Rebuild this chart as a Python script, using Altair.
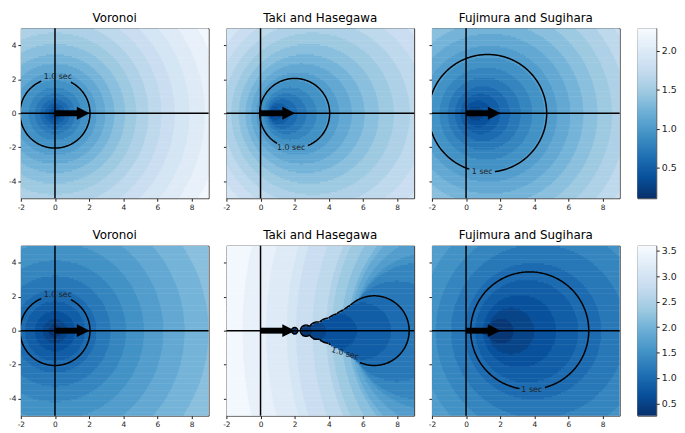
import numpy as np
import pandas as pd
import altair as alt

# ---------------- axes / text ----------------
X_DOMAIN = [-2, 9]
Y_DOMAIN = [-5, 5]
X_TICKS = [-2, 0, 2, 4, 6, 8]
Y_TICKS = [-4, -2, 0, 2, 4]

TITLES = ["Voronoi", "Taki and Hasegawa", "Fujimura and Sugihara"]
MODELS = ["voronoi", "taki", "fujimura"]

# colour-bar ranges and tick labels
ROW_VMIN = [0.11, 0.26]
ROW_VMAX = [2.29, 3.60]
CBAR_TICKS = [[0.5, 1.0, 1.5, 2.0], [0.5, 1.0, 1.5, 2.0, 2.5, 3.0, 3.5]]
N_LEVELS = 20
CBAR_STEPS = 100
# matplotlib "Blues" stops, dark (low) to light (high)
BLUES_R = ["#08306b", "#08519c", "#2171b5", "#4292c6", "#6baed6",
           "#9ecae1", "#c6dbef", "#deebf7", "#f7fbff"]

# motion-model parameters
VELOCITY = [[0.0, 2.0, 2.0], [0.0, 6.66, 5.9]]   # initial speed along +x
HALF_ACCEL = 2.05                                 # reach radius = HALF_ACCEL * t^2
FS_LAMBDA = 1.0                                   # Fujimura-Sugihara resistance
FS_VMAX = 9.4                                     # Fujimura-Sugihara max speed
TIME_STEP = [[0.005, 0.005, 0.005], [0.005, 0.1, 0.005]]
CONTOUR_TIME = 1.0

ARROW_X = [0.0, 2.03]   # velocity arrow start / tip

LABEL_TEXT = [["1.0 sec", "1.0 sec", "1 sec"], ["1.0 sec", "1.0 sec", "1 sec"]]
LABEL_X = [[0.17, 1.8, 0.95], [0.17, 4.95, 3.85]]
LABEL_Y = [[2.12, -2.07, -3.47], [2.12, -1.36, -3.48]]
LABEL_ANGLE = [[0, 0, 0], [0, 16, 0]]

# ---------------- layout ----------------
PW, PH = 190, 172
CB_W = 19
DX, DY = 0.025, 0.1
OVERLAP = 0.03
PX_PER_UNIT = PW / (X_DOMAIN[1] - X_DOMAIN[0])


def centre_radius(model, v0, t):
    t = np.asarray(t, dtype=float)
    if model == "fujimura":
        g = (1 - np.exp(-FS_LAMBDA * t)) / FS_LAMBDA
        return v0 * g, FS_VMAX * (t - g)
    return v0 * t, HALF_ACCEL * t ** 2


def time_field(model, v0, dt):
    xe = np.arange(X_DOMAIN[0], X_DOMAIN[1] + DX / 2, DX)
    ye = np.arange(Y_DOMAIN[0], Y_DOMAIN[1] + DY / 2, DY)
    XX, YY = np.meshgrid((xe[:-1] + xe[1:]) / 2, (ye[:-1] + ye[1:]) / 2)
    T = np.full(XX.shape, np.inf)
    ts = np.arange(0, 5 + dt / 2, dt)
    cs, rs = centre_radius(model, v0, ts)
    for t, c, r in zip(ts, cs, rs):
        m = (T == np.inf) & ((XX - c) ** 2 + YY ** 2 <= r * r)
        T[m] = t
    return xe, ye, T


def heat_frame(row, col):
    xe, ye, T = time_field(MODELS[col], VELOCITY[row][col], TIME_STEP[row][col])
    vmin, vmax = ROW_VMIN[row], ROW_VMAX[row]
    step = (vmax - vmin) / N_LEVELS
    K = np.clip(np.floor((T - vmin) / step), 0, N_LEVELS - 1).astype(int)
    recs = []
    for j in range(K.shape[0]):
        k = K[j]
        cut = np.flatnonzero(np.diff(k)) + 1
        s = np.r_[0, cut]
        e = np.r_[cut, k.size]
        for a, b in zip(s, e):
            recs.append((xe[a], min(xe[b] + OVERLAP, X_DOMAIN[1]), ye[j] - OVERLAP, ye[j + 1],
                         vmin + (k[a] + 0.5) * step))
    return pd.DataFrame(recs, columns=["x", "x2", "y", "y2", "v"]).round(4)


def contour_frame(row, col):
    model, v0, dt = MODELS[col], VELOCITY[row][col], TIME_STEP[row][col]
    if dt >= 0.05:
        ts = np.arange(dt, CONTOUR_TIME + dt / 2, dt)
    else:
        ts = np.array([CONTOUR_TIME])
    cs, rs = centre_radius(model, v0, ts)
    ang = np.linspace(0, 2 * np.pi, 361)
    text = LABEL_TEXT[row][col]
    hw = (len(text) * 4.15 / 2 + 2) / PX_PER_UNIT
    hh = 5 / PX_PER_UNIT
    a = np.radians(LABEL_ANGLE[row][col])
    recs, seg = [], 0
    for i, (c, r) in enumerate(zip(cs, rs)):
        px = c + r * np.cos(ang)
        py = r * np.sin(ang)
        keep = np.ones(px.shape, bool)
        for j, (c2, r2) in enumerate(zip(cs, rs)):
            if j != i:
                keep &= (px - c2) ** 2 + py ** 2 >= r2 ** 2 - 1e-9
        dx = px - LABEL_X[row][col]
        dy = py - LABEL_Y[row][col]
        u = dx * np.cos(a) - dy * np.sin(a)
        v = dx * np.sin(a) + dy * np.cos(a)
        keep &= ~((np.abs(u) < hw) & (np.abs(v) < hh))
        idx = np.flatnonzero(keep)
        if idx.size == 0:
            continue
        breaks = np.flatnonzero(np.diff(idx) > 1) + 1
        for run in np.split(idx, breaks):
            if run.size < 2:
                continue
            for o, p in enumerate(run):
                recs.append((seg, o, px[p], py[p]))
            seg += 1
    return pd.DataFrame(recs, columns=["seg", "i", "x", "y"]).round(4)


def colour_scale(row):
    dom = list(np.linspace(ROW_VMIN[row], ROW_VMAX[row], len(BLUES_R)).round(5))
    return alt.Scale(domain=dom, range=BLUES_R, interpolate="rgb")


def panel(row, col):
    xs = alt.Scale(domain=X_DOMAIN, nice=False, zero=False)
    ys = alt.Scale(domain=Y_DOMAIN, nice=False, zero=False)
    xaxis = alt.Axis(values=X_TICKS, title=None, labelExpr="datum.value", labelPadding=2,
                     labelOverlap=False, labelFlush=False)
    yaxis = alt.Axis(values=Y_TICKS, title=None, labelExpr="datum.value",
                     labels=(col == 0), labelPadding=2, labelOverlap=False, labelFlush=False)
    cs = colour_scale(row)
    heat = alt.Chart(heat_frame(row, col)).mark_rect(clip=True, strokeWidth=0).encode(
        x=alt.X("x:Q", scale=xs, axis=xaxis), x2="x2:Q",
        y=alt.Y("y:Q", scale=ys, axis=yaxis), y2="y2:Q",
        color=alt.Color("v:Q", scale=cs, legend=None),
    )
    line = alt.Chart(contour_frame(row, col)).mark_line(
        clip=True, color="black", strokeWidth=1.5).encode(
        x=alt.X("x:Q", axis=xaxis), y=alt.Y("y:Q", axis=yaxis), detail="seg:N", order="i:Q")
    vrule = alt.Chart(pd.DataFrame({"x": [0.0]})).mark_rule(
        color="black", strokeWidth=1.5).encode(x=alt.X("x:Q", axis=xaxis))
    hrule = alt.Chart(pd.DataFrame({"y": [0.0]})).mark_rule(
        color="black", strokeWidth=1.5).encode(y=alt.Y("y:Q", axis=yaxis))
    head_len = 13 / PX_PER_UNIT
    shaft = alt.Chart(pd.DataFrame({"x": [ARROW_X[0]], "x2": [ARROW_X[1] - head_len * 0.85],
                                    "y": [0.0]})).mark_rule(
        color="black", strokeWidth=6).encode(x=alt.X("x:Q", axis=xaxis), x2="x2:Q",
                                             y=alt.Y("y:Q", axis=yaxis))
    head = alt.Chart(pd.DataFrame({"x": [ARROW_X[1] - head_len / 2], "y": [0.0]})).mark_point(
        shape="M -1 -1 L 1 0 L -1 1 Z", size=169, filled=True, color="black", opacity=1,
        strokeWidth=0).encode(x=alt.X("x:Q", axis=xaxis), y=alt.Y("y:Q", axis=yaxis))
    label = alt.Chart(pd.DataFrame({"x": [LABEL_X[row][col]], "y": [LABEL_Y[row][col]],
                                    "t": [LABEL_TEXT[row][col]]})).mark_text(
        fontSize=8, color="#222222", align="center", baseline="middle",
        angle=LABEL_ANGLE[row][col]).encode(x=alt.X("x:Q", axis=xaxis),
                                            y=alt.Y("y:Q", axis=yaxis), text="t:N")
    return alt.layer(heat, line, vrule, hrule, shaft, head, label).properties(
        width=PW, height=PH, title=TITLES[col])


def colorbar(row):
    vmin, vmax = ROW_VMIN[row], ROW_VMAX[row]
    edges = np.linspace(vmin, vmax, CBAR_STEPS + 1)
    ov = (vmax - vmin) / CBAR_STEPS * 0.5
    df = pd.DataFrame({"lo": edges[:-1], "hi": np.minimum(edges[1:] + ov, vmax),
                       "v": (edges[:-1] + edges[1:]) / 2})
    cs = colour_scale(row)
    return alt.Chart(df).mark_rect(strokeWidth=0).encode(
        y=alt.Y("lo:Q", scale=alt.Scale(domain=[vmin, vmax], nice=False, zero=False),
                axis=alt.Axis(orient="right", values=CBAR_TICKS[row], format=".1f", title=None,
                              labelFontSize=9.5, labelPadding=2, labelOverlap=False,
                              labelFlush=False)),
        y2="hi:Q", x=alt.value(0), x2=alt.value(CB_W),
        color=alt.Color("v:Q", scale=cs, legend=None),
    ).properties(width=CB_W, height=PH)


rows = []
for r in range(2):
    rows.append(alt.hconcat(*[panel(r, c) for c in range(3)], colorbar(r),
                            spacing=18, bounds="flush").resolve_scale(color="independent"))

chart = alt.vconcat(*rows, spacing=17).resolve_scale(color="independent").properties(padding=0)

chart = chart.configure(font="DejaVu Sans").configure_view(
    stroke="#333333", strokeWidth=1).configure_title(
    fontSize=12, fontWeight="normal", color="black", offset=3, font="DejaVu Sans").configure_axis(
    tickColor="#222222", labelColor="#222222", tickSize=3, labelFontSize=7.5, grid=False,
    domain=False, labelFont="DejaVu Sans", labelOverlap=False, labelFlush=False)

chart.save("out.html", embed_options={"renderer": "svg", "actions": False})
